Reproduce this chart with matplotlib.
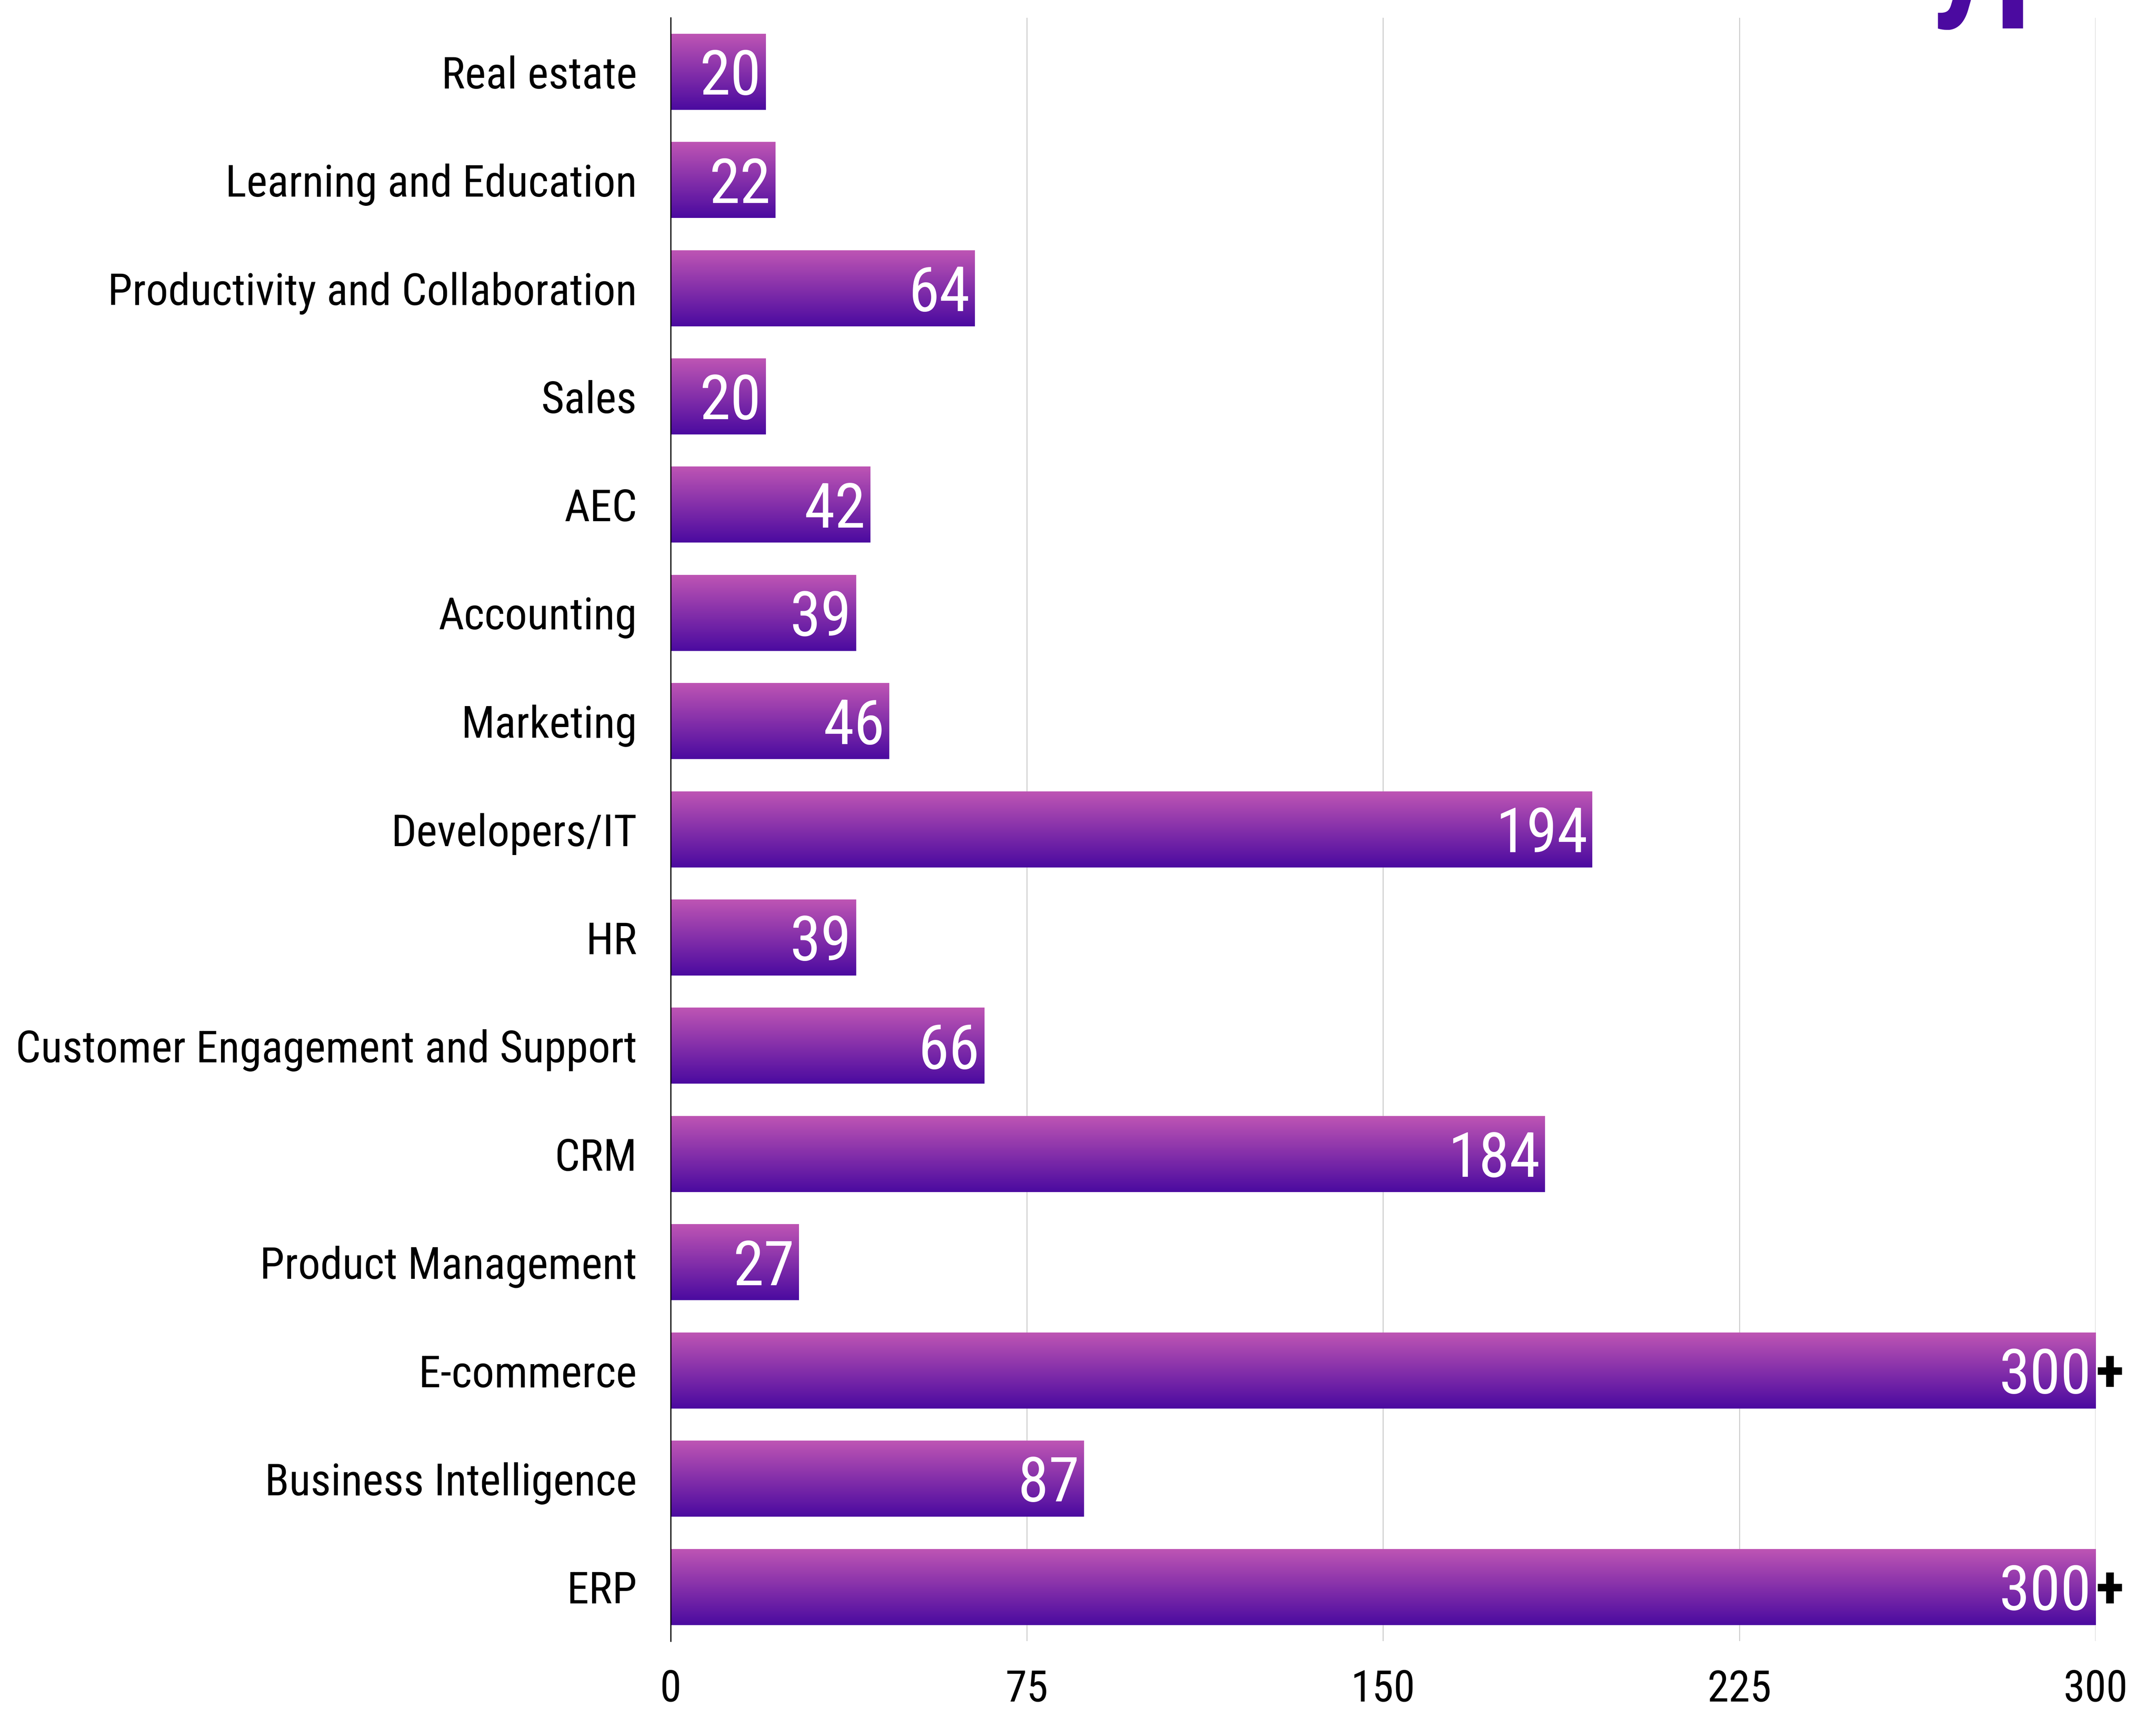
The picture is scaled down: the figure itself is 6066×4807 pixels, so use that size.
import numpy as np
import matplotlib
matplotlib.use('Agg')
import matplotlib.pyplot as plt
from matplotlib import font_manager
from matplotlib.colors import LinearSegmentedColormap

categories = ['Real estate', 'Learning and Education', 'Productivity and Collaboration',
              'Sales', 'AEC', 'Accounting', 'Marketing', 'Developers/IT', 'HR',
              'Customer Engagement and Support', 'CRM', 'Product Management',
              'E-commerce', 'Business Intelligence', 'ERP']
values = [20, 22, 64, 20, 42, 39, 46, 194, 39, 66, 184, 27, 300, 87, 300]
open_ended = [False, False, False, False, False, False, False, False, False,
              False, False, False, True, False, True]
x_ticks = [0, 75, 150, 225, 300]

names = {f.name for f in font_manager.fontManager.ttflist}
for fam in ['Roboto Condensed', 'Archivo Narrow', 'Roboto', 'DejaVu Sans']:
    if fam in names:
        break
plt.rcParams['font.family'] = [fam, 'DejaVu Sans']

top_color = '#BE55B4'
bottom_color = '#4B0AA0'
grad_cmap = LinearSegmentedColormap.from_list('bar_grad', [top_color, bottom_color])

fig = plt.figure(figsize=(60.66, 48.07), dpi=100)
ax = fig.add_axes([0.311, 0.0397, 0.972 - 0.311, 0.9896 - 0.0397])

y = np.arange(len(categories))
bars = ax.barh(y, values, height=0.7, color='none', zorder=2)

# fill every bar with a vertical gradient
grad = np.linspace(0, 1, 256).reshape(-1, 1)
for b in bars:
    x0, y0 = b.get_x(), b.get_y()
    ax.imshow(grad, cmap=grad_cmap, aspect='auto', origin='lower',
              extent=(x0, x0 + b.get_width(), y0, y0 + b.get_height()), zorder=2)

for yi, v, plus in zip(y, values, open_ended):
    ax.text(v - 0.9, yi + 0.21, str(v), ha='right', va='baseline',
            color='white', fontsize=126, zorder=3)
    if plus:
        ax.text(v + 0.05, yi + 0.19, '+', ha='left', va='baseline',
                color='black', fontsize=120, fontweight='bold', zorder=3)

ax.set_xlim(0, 300)
ax.set_ylim(len(categories) - 0.5, -0.5)
ax.set_xticks(x_ticks)
ax.set_xticklabels([str(t) for t in x_ticks])
ax.set_yticks(y)
ax.set_yticklabels(categories)
ax.tick_params(axis='y', length=0, pad=68, labelsize=90)
ax.tick_params(axis='x', length=0, pad=56, labelsize=88)

ax.grid(axis='x', color='#d0d0d0', linewidth=2.2)
ax.set_axisbelow(True)
for side in ['top', 'right', 'bottom']:
    ax.spines[side].set_visible(False)
ax.spines['left'].set_linewidth(2.5)
ax.spines['left'].set_color('black')
ax.spines['left'].set_zorder(4)

# heading sits above the canvas, only its descenders reach in
fig.text(0.9923, 1.001, 'Type', ha='right', va='baseline', fontsize=300,
         fontweight='bold', color=bottom_color)

fig.savefig('out.png', dpi=100)
